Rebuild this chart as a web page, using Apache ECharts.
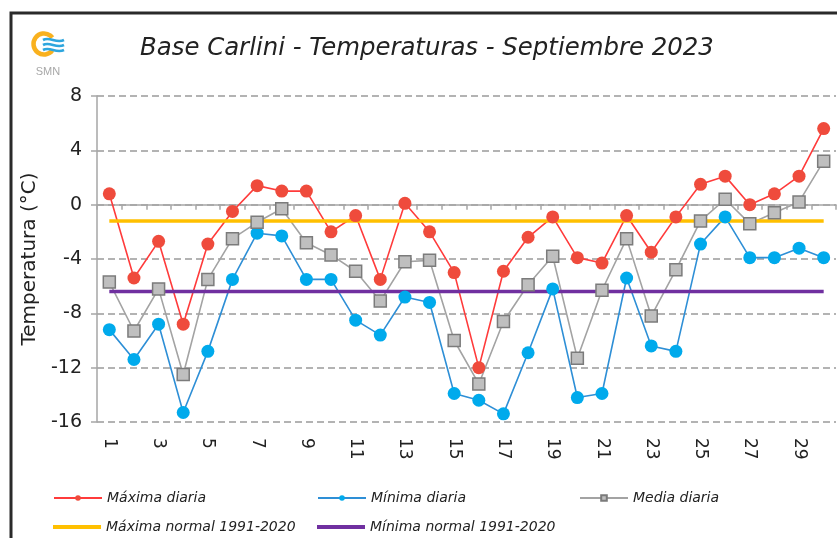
<!DOCTYPE html>
<html>
<head>
<meta charset="utf-8">
<script src="https://cdn.jsdelivr.net/npm/echarts@6/dist/echarts.min.js"></script>
<style>
  html, body { margin: 0; padding: 0; background: #fff; }
  #chart { width: 837px; height: 538px; }
</style>
</head>
<body>
<div id="chart"></div>
<script>
// Días del mes
const days = ['1','2','3','4','5','6','7','8','9','10','11','12','13','14','15',
              '16','17','18','19','20','21','22','23','24','25','26','27','28','29','30'];

// Temperaturas diarias (°C)
const maxDaily  = [0.8, -5.4, -2.7, -8.8, -2.9, -0.5, 1.4, 1.0, 1.0, -2.0,
                   -0.8, -5.5, 0.1, -2.0, -5.0, -12.0, -4.9, -2.4, -0.9, -3.9,
                   -4.3, -0.8, -3.5, -0.9, 1.5, 2.1, 0.0, 0.8, 2.1, 5.6];
const minDaily  = [-9.2, -11.4, -8.8, -15.3, -10.8, -5.5, -2.1, -2.3, -5.5, -5.5,
                   -8.5, -9.6, -6.8, -7.2, -13.9, -14.4, -15.4, -10.9, -6.2, -14.2,
                   -13.9, -5.4, -10.4, -10.8, -2.9, -0.9, -3.9, -3.9, -3.2, -3.9];
const meanDaily = [-5.7, -9.3, -6.2, -12.5, -5.5, -2.5, -1.3, -0.3, -2.8, -3.7,
                   -4.9, -7.1, -4.2, -4.1, -10.0, -13.2, -8.6, -5.9, -3.8, -11.3,
                   -6.3, -2.5, -8.2, -4.8, -1.2, 0.4, -1.4, -0.6, 0.2, 3.2];

// Valores normales 1991-2020
const maxNormal = -1.2;
const minNormal = -6.4;

// Eje vertical
const yMin = -16, yMax = 8, yStep = 4;

const FONT = 'DejaVu Sans';
const TEXT = '#222222';

const chart = echarts.init(document.getElementById('chart'), null, { renderer: 'canvas' });

const legendBase = {
  orient: 'horizontal',
  padding: 0,
  itemGap: 0,
  itemWidth: 48,
  itemHeight: 7,
  selectedMode: false,
  textStyle: { fontFamily: FONT, fontStyle: 'italic', fontSize: 14, color: TEXT }
};

// ondas azules del logo
function wave(y) {
  return {
    type: 'bezierCurve', silent: true,
    shape: { x1: 43, y1: y, cpx1: 50, cpy1: y - 4, cpx2: 56, cpy2: y + 4, x2: 64, y2: y },
    style: { fill: null, stroke: '#2EA6DE', lineWidth: 2.6 }
  };
}

const option = {
  backgroundColor: '#ffffff',
  animation: false,
  title: {
    text: 'Base Carlini - Temperaturas - Septiembre 2023',
    left: 140,
    top: 37,
    padding: 0,
    textStyle: { fontFamily: FONT, fontStyle: 'italic', fontWeight: 'normal', fontSize: 24.4, color: TEXT }
  },
  graphic: [
    // marco
    { type: 'rect', z: 100, silent: true,
      shape: { x: 11, y: 13, width: 1000, height: 1000 },
      style: { fill: null, stroke: '#2a2a2a', lineWidth: 3 } },
    // logo SMN
    { type: 'arc', silent: true,
      shape: { cx: 44, cy: 44, r: 10.5, startAngle: 0.65, endAngle: Math.PI * 2 - 0.65 },
      style: { fill: null, stroke: '#F9B11E', lineWidth: 4.5 } },
    wave(40), wave(45), wave(50),
    { type: 'text', silent: true, x: 48, y: 72,
      style: { text: 'SMN', fontFamily: 'Liberation Sans', fontSize: 11, fill: '#a8a8a8',
               align: 'center', verticalAlign: 'middle' } }
  ],
  legend: [
    Object.assign({}, legendBase, { left: 53, top: 491, data: [{ name: 'Máxima diaria' }] }),
    Object.assign({}, legendBase, { left: 317, top: 491, data: [{ name: 'Mínima diaria' }] }),
    Object.assign({}, legendBase, { left: 579, top: 491, data: [{ name: 'Media diaria' }] }),
    Object.assign({}, legendBase, { left: 53, top: 520, itemHeight: 4, data: [{ name: 'Máxima normal 1991-2020', icon: 'rect' }] }),
    Object.assign({}, legendBase, { left: 317, top: 520, itemHeight: 4, data: [{ name: 'Mínima normal 1991-2020', icon: 'rect' }] })
  ],
  grid: {
    left: 97, top: 96, right: 1, height: 326,
    containLabel: false,
    outerBoundsMode: 'none'
  },
  xAxis: {
    type: 'category',
    data: days,
    boundaryGap: true,
    axisLine: { lineStyle: { color: '#a6a6a6', width: 1.5 } },
    axisTick: { show: true, interval: 0, length: 5, lineStyle: { color: '#a6a6a6', width: 1.5 } },
    axisLabel: { interval: 1, rotate: -90, margin: 16, fontFamily: FONT, fontSize: 17, color: TEXT },
    splitLine: { show: false }
  },
  yAxis: {
    type: 'value',
    min: yMin, max: yMax, interval: yStep,
    name: 'Temperatura (°C)',
    nameLocation: 'middle',
    nameGap: 57,
    nameTextStyle: { fontFamily: FONT, fontSize: 20, color: TEXT },
    axisLine: { show: true, lineStyle: { color: '#a6a6a6', width: 1.5 } },
    axisTick: { show: true, length: 6, lineStyle: { color: '#a6a6a6', width: 1.5 } },
    axisLabel: { margin: 15, fontFamily: FONT, fontSize: 19, color: TEXT },
    splitLine: { show: true, lineStyle: { color: '#9a9a9a', width: 1.5, type: [7, 4] } }
  },
  series: [
    {
      name: 'Máxima diaria', type: 'line', data: maxDaily,
      symbol: 'circle', symbolSize: 13,
      lineStyle: { color: '#FF3B3B', width: 1.6 },
      itemStyle: { color: '#EF4B3C' }
    },
    {
      name: 'Mínima diaria', type: 'line', data: minDaily,
      symbol: 'circle', symbolSize: 13,
      lineStyle: { color: '#2E8FD6', width: 1.6 },
      itemStyle: { color: '#00AAEC' }
    },
    {
      name: 'Media diaria', type: 'line', data: meanDaily,
      symbol: 'rect', symbolSize: 12,
      lineStyle: { color: '#a3a3a3', width: 1.6 },
      itemStyle: { color: '#BFBFBF', borderColor: '#7b7b7b', borderWidth: 1.5 }
    },
    {
      name: 'Máxima normal 1991-2020', type: 'line', data: days.map(() => maxNormal),
      symbol: 'none',
      lineStyle: { color: '#FFC000', width: 3.5 },
      itemStyle: { color: '#FFC000' }
    },
    {
      name: 'Mínima normal 1991-2020', type: 'line', data: days.map(() => minNormal),
      symbol: 'none',
      lineStyle: { color: '#7030A0', width: 3.5 },
      itemStyle: { color: '#7030A0' }
    }
  ]
};

chart.setOption(option);
</script>
</body>
</html>
